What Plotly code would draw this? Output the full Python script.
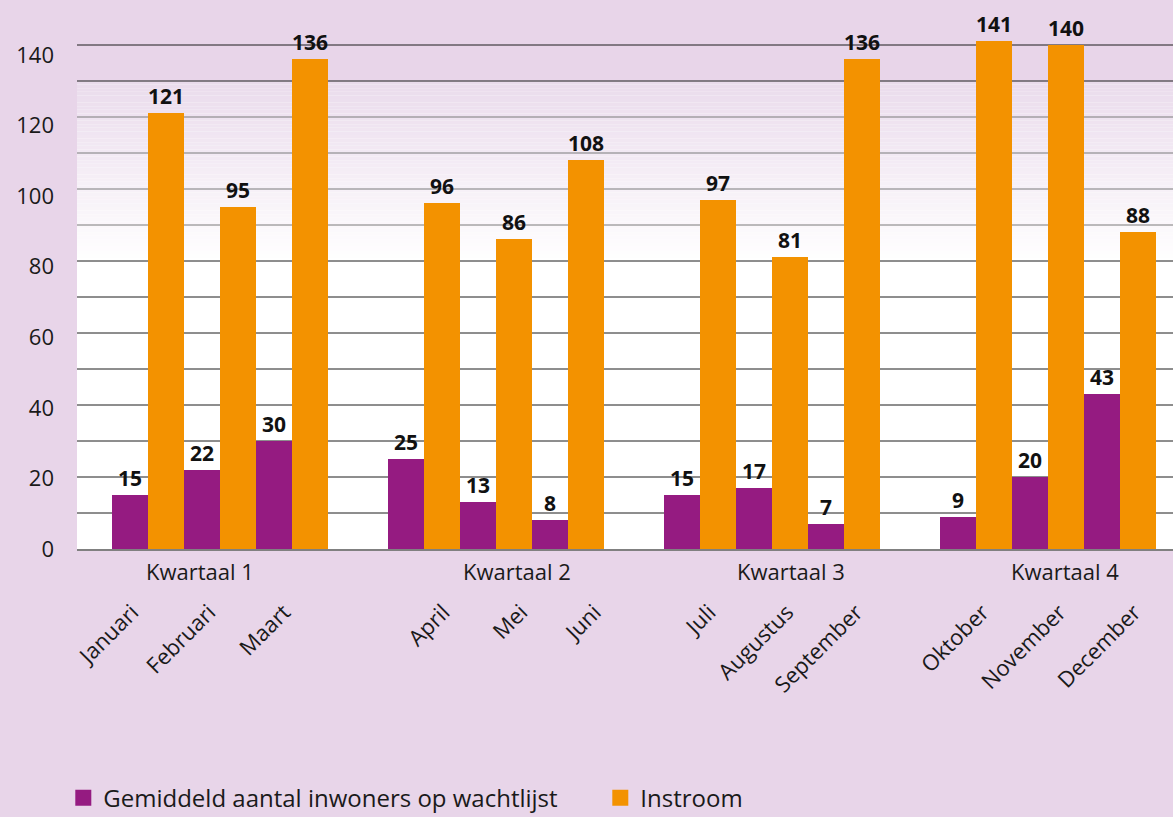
import plotly.graph_objects as go

# ---------------- data ----------------
quarters = ["Kwartaal 1", "Kwartaal 2", "Kwartaal 3", "Kwartaal 4"]
months = ["Januari", "Februari", "Maart", "April", "Mei", "Juni",
          "Juli", "Augustus", "September", "Oktober", "November", "December"]
wachtlijst = [15, 22, 30, 25, 13, 8, 15, 17, 7, 9, 20, 43]
instroom = [121, 95, 136, 96, 86, 108, 97, 81, 136, 141, 140, 88]
series_names = ["Gemiddeld aantal inwoners op wachtlijst", "Instroom"]
y_ticks = [0, 20, 40, 60, 80, 100, 120, 140]

# ---------------- styling / layout helpers ----------------
PAPER = "#e8d5e9"
PURPLE = "#951b81"
ORANGE = "#f39200"
TEXT = "#1a1a1a"
FONT = "Open Sans"

W, H = 1173, 817
ML, MB = 77, 268
QGAP = 0.8333          # gap between quarter groups (in month slots)
X0 = 0.0139
XSPAN = (W - ML) / 72.0

# month centres (one slot per month, groups of 3 separated by a gap)
centers = []
for i in range(len(months)):
    q, m = divmod(i, 3)
    centers.append(1.0 + q * (3 + QGAP) + m)

# small nudges of month labels / quarter labels to follow the original layout
label_nudge = [-0.14, -0.07, -0.03, 0.35, 0.43, 0.45, 0.21, 0.29, 0.25, 0.17, 0.24, 0.28]
tick_pos = [c + n - 0.08 for c, n in zip(centers, label_nudge)]
quarter_label_x = [1.72, 6.125, 9.93, 13.74]

fig = go.Figure()
for vals, name, col, off in [(wachtlijst, series_names[0], PURPLE, -0.5),
                             (instroom, series_names[1], ORANGE, 0.0)]:
    fig.add_trace(go.Bar(
        x=centers, y=vals, name=name, showlegend=False,
        marker=dict(color=col, line=dict(width=0)),
        width=0.5, offset=off,
        text=vals, textposition="outside", constraintext="none", cliponaxis=False,
        textfont=dict(family=FONT, size=21, color="#111111", weight="bold"),
    ))
# legend entries with larger square swatches
for name, col in [(series_names[0], PURPLE), (series_names[1], ORANGE)]:
    fig.add_trace(go.Scatter(
        x=[None], y=[None], mode="markers", name=name,
        marker=dict(symbol="square", size=20, color=col),
    ))

shapes = []
# gradient background from white (80) to lilac (130)
g_lo, g_hi = 80, 130
c_lo = (255, 255, 255)
c_hi = (234, 219, 236)
n = 50
for k in range(n):
    t = (k + 0.5) / n
    col = tuple(round(c_lo[j] + (c_hi[j] - c_lo[j]) * t) for j in range(3))
    y0 = g_lo + (g_hi - g_lo) * k / n
    y1 = g_lo + (g_hi - g_lo) * (k + 1) / n
    shapes.append(dict(type="rect", xref="paper", yref="y", x0=0, x1=1, y0=y0, y1=y1,
                       fillcolor="rgb(%d,%d,%d)" % col, line=dict(width=0), layer="below"))
shapes.append(dict(type="rect", xref="paper", yref="y", x0=0, x1=1, y0=g_hi, y1=160,
                   fillcolor=PAPER, line=dict(width=0), layer="below"))
# gridlines every 10
for gv in range(10, 150, 10):
    col = "#7a7a7a" if 90 <= gv <= 120 else "#1c1c1c"
    shapes.append(dict(type="line", xref="paper", yref="y", x0=0, x1=1, y0=gv, y1=gv,
                       line=dict(color=col, width=1), layer="below"))

annotations = []
for qx, qt in zip(quarter_label_x, quarters):
    annotations.append(dict(x=qx, y=0, xref="x", yref="y", yshift=-22, text=qt,
                            showarrow=False, xanchor="center", yanchor="middle",
                            font=dict(family=FONT, size=22, color=TEXT)))

fig.update_layout(
    width=W, height=H, autosize=False,
    margin=dict(l=ML, r=0, t=0, b=MB, pad=0, autoexpand=False),
    paper_bgcolor=PAPER, plot_bgcolor="#ffffff",
    barmode="overlay", bargap=0,
    font=dict(family=FONT, size=22, color=TEXT),
    shapes=shapes, annotations=annotations,
    showlegend=True,
    legend=dict(orientation="h", x=-0.0125, xanchor="left", y=-0.4536, yanchor="middle",
                font=dict(family=FONT, size=24, color=TEXT),
                entrywidth=492, entrywidthmode="pixels", itemsizing="trace",
                bgcolor="rgba(0,0,0,0)", traceorder="normal"),
    xaxis=dict(range=[X0, X0 + XSPAN], tickvals=tick_pos, ticktext=months,
               tickangle=-45, ticks="", showgrid=False, zeroline=False,
               showline=True, linecolor="#808080", linewidth=1.5,
               ticklabelstandoff=40, automargin=False,
               tickfont=dict(family=FONT, size=22, color=TEXT)),
    yaxis=dict(range=[0, 152.5], ticks="", showgrid=False, showticklabels=False,
               zeroline=False, showline=False, automargin=False),
    # tick-label axis: same values, placed slightly lower as in the original artwork
    yaxis2=dict(range=[0, 155.58], overlaying="y", side="left", tickvals=y_ticks,
                ticks="", showgrid=False, zeroline=False, showline=False,
                ticklabelstandoff=22, fixedrange=True, automargin=False,
                tickfont=dict(family=FONT, size=22, color=TEXT)),
)
# attach an invisible helper so the tick-label axis is rendered
fig.add_trace(go.Scatter(x=[None], y=[None], yaxis="y2", showlegend=False, hoverinfo="skip"))

fig.write_html("out.html", config={"displayModeBar": False},
               post_script="document.body.style.margin='0';")
